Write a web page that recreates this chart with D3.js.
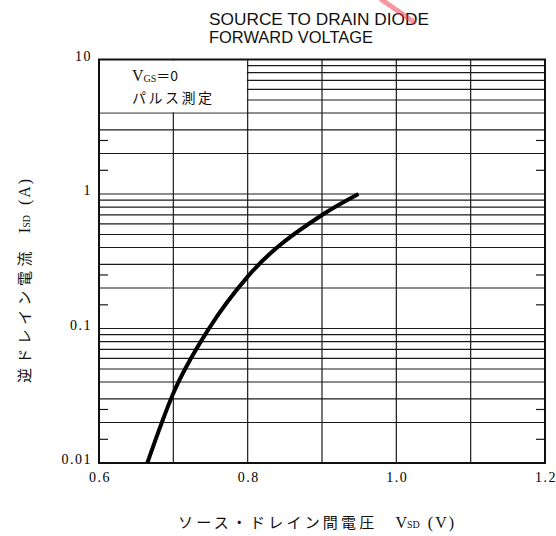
<!DOCTYPE html>
<html>
<head>
<meta charset="utf-8">
<script src="https://cdn.jsdelivr.net/npm/d3@7"></script>
<style>
  html, body { margin: 0; padding: 0; background: #fff; }
  svg { display: block; }
</style>
</head>
<body>
<svg id="chart" width="556" height="536"></svg>
<script>
// ---- data ----
const vsd = [0.665, 0.700, 0.748, 0.800, 0.900, 0.949];
const isd = [0.010, 0.033, 0.100, 0.243, 0.698, 1.000];
const xTicks = [0.6, 0.8, 1.0, 1.2];
const xTickLabels = ["0.6", "0.8", "1.0", "1.2"];
const xGrid = [0.7, 0.8, 0.9, 1.0, 1.1];
const yTicks = [0.01, 0.1, 1, 10];
const yTickLabels = ["0.01", "0.1", "1", "10"];
const yMinorMarks = [0.015, 0.025, 0.15, 0.25, 1.5, 2.5];
const titleLines = ["SOURCE TO DRAIN DIODE", "FORWARD VOLTAGE"];

const svg = d3.select("#chart");
const L = 99, R = 545, T = 59.5, B = 463;
const x = d3.scaleLinear().domain([0.6, 1.2]).range([L, R]);
const y = d3.scaleLog().domain([0.01, 10]).range([B, T]);

// horizontal grid values (k * 10^n)
const yGrid = [];
[0.01, 0.1, 1].forEach(d => { for (let k = 2; k <= 9; k++) yGrid.push(+(k * d).toPrecision(3)); });
[1, 0.1].forEach(v => yGrid.push(v));

const grid = svg.append("g").attr("stroke", "#1a1a1a").attr("stroke-width", 1.2);
grid.selectAll("line.h").data(yGrid).join("line")
  .attr("x1", L).attr("x2", R)
  .attr("y1", d => y(d)).attr("y2", d => y(d));
grid.selectAll("line.v").data(xGrid).join("line")
  .attr("x1", d => x(d)).attr("x2", d => x(d))
  .attr("y1", T).attr("y2", B);

// minor marks on left and right edges
const minor = svg.append("g").attr("stroke", "#1a1a1a").attr("stroke-width", 1.2);
minor.selectAll("line.l").data(yMinorMarks).join("line")
  .attr("x1", L).attr("x2", L + 9).attr("y1", d => y(d)).attr("y2", d => y(d));
minor.selectAll("line.r").data(yMinorMarks).join("line")
  .attr("x1", R - 9).attr("x2", R).attr("y1", d => y(d)).attr("y2", d => y(d));

// legend box (white area covering grid)
svg.append("rect")
  .attr("x", L + 1).attr("y", T + 1)
  .attr("width", x(0.8) - L - 1.8).attr("height", y(4) - T - 1.8)
  .attr("fill", "#fff");

// frame
svg.append("rect").attr("x", L).attr("y", T).attr("width", R - L).attr("height", B - T)
  .attr("fill", "none").attr("stroke", "#111").attr("stroke-width", 2);

// curve
const pts = vsd.map((v, i) => [v, isd[i]]);
const line = d3.line().x(d => x(d[0])).y(d => y(d[1])).curve(d3.curveMonotoneX);
svg.append("path").datum(pts).attr("d", line)
  .attr("fill", "none").attr("stroke", "#000").attr("stroke-width", 4).attr("stroke-linecap", "butt");

// tick labels
const numFont = "'Liberation Serif', 'DejaVu Serif', serif";
svg.append("g").selectAll("text").data(yTicks).join("text")
  .attr("x", 92).attr("y", d => y(d)).attr("dy", "0.1em")
  .attr("text-anchor", "end")
  .attr("font-family", numFont).attr("font-size", 14).attr("letter-spacing", 1.5)
  .text((d, i) => yTickLabels[i]);
svg.append("g").selectAll("text").data(xTicks).join("text")
  .attr("x", d => x(d) + 1).attr("y", 482)
  .attr("text-anchor", "middle")
  .attr("font-family", numFont).attr("font-size", 14).attr("letter-spacing", 1.5)
  .text((d, i) => xTickLabels[i]);

// title
svg.append("g").selectAll("text").data(titleLines).join("text")
  .attr("x", 209).attr("y", (d, i) => 25 + i * 18)
  .attr("font-family", "'Liberation Sans', Arial, sans-serif").attr("font-size", 17)
  .attr("textLength", (d, i) => i === 0 ? 220 : 164)
  .attr("lengthAdjust", "spacingAndGlyphs")
  .attr("fill", "#111")
  .text(d => d);

// red streak (scan mark)
svg.append("line").attr("x1", 382).attr("y1", 0).attr("x2", 414).attr("y2", 22)
  .attr("stroke", "#f03040").attr("stroke-width", 5).attr("opacity", 0.5).attr("stroke-linecap", "round");

// legend text
const jp = "'Noto Sans CJK JP', sans-serif";
const lg = svg.append("text").attr("x", 132).attr("y", 81)
  .attr("font-family", numFont).attr("font-size", 16).attr("fill", "#111");
lg.append("tspan").text("V");
lg.append("tspan").attr("font-size", 10).attr("dy", 1).text("GS");
lg.append("tspan").attr("dy", -1).attr("font-family", jp).attr("font-size", 14).text("＝0");
svg.append("text").attr("x", 132).attr("y", 103)
  .attr("font-family", jp).attr("font-size", 14).attr("letter-spacing", 2.5).attr("fill", "#111")
  .text("パルス測定");

// x axis title
const xt = svg.append("text").attr("x", 178).attr("y", 528)
  .attr("font-family", jp).attr("font-size", 15).attr("fill", "#111");
xt.append("tspan").attr("letter-spacing", 3.2).text("ソース・ドレイン間電圧");
xt.append("tspan").attr("dx", 18).attr("font-family", numFont).attr("font-size", 16).text("V");
xt.append("tspan").attr("font-family", numFont).attr("font-size", 10).text("SD");
xt.append("tspan").attr("dx", 8).attr("font-family", numFont).attr("font-size", 16).attr("letter-spacing", 2).text("(V)");

// y axis title
const yt = svg.append("text")
  .attr("transform", "translate(30,383) rotate(-90)")
  .attr("font-family", jp).attr("font-size", 15).attr("fill", "#111");
yt.append("tspan").attr("letter-spacing", 4.4).text("逆ドレイン電流");
yt.append("tspan").attr("dx", 14).attr("font-family", numFont).attr("font-size", 16).text("I");
yt.append("tspan").attr("font-family", numFont).attr("font-size", 10).text("SD");
yt.append("tspan").attr("dx", 10).attr("font-family", numFont).attr("font-size", 16).attr("letter-spacing", 2).text("(A)");
</script>
</body>
</html>
